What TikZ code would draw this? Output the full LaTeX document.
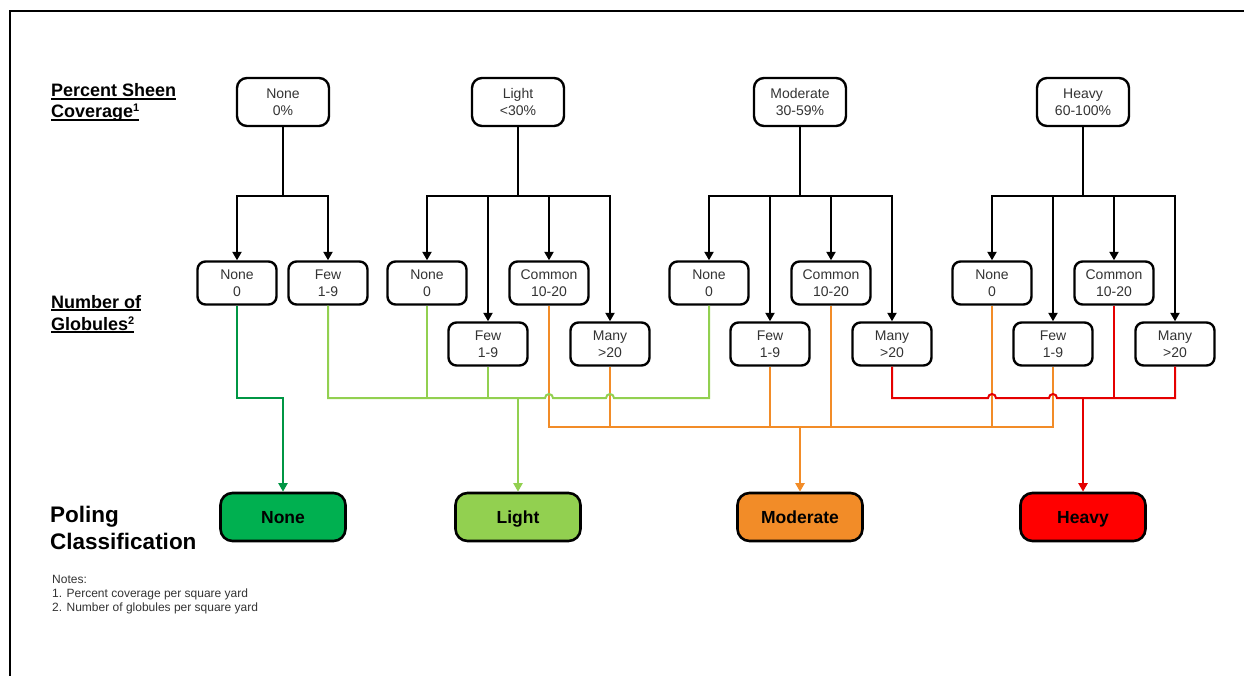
\documentclass[tikz,border=0pt]{standalone}
\usepackage{fontspec}
\setmainfont{Liberation Sans}
\usepackage{tikz}
\usetikzlibrary{arrows.meta}
\usetikzlibrary{calc}
\usetikzlibrary{positioning}

\definecolor{NoneGreen}{HTML}{00B050}
\definecolor{LightGreen}{HTML}{92D050}
\definecolor{ModOrange}{HTML}{F28C28}
\definecolor{HeavyRed}{HTML}{FF0000}

\newcommand{\undl}[1]{\setbox0\hbox{#1}\rlap{\rule[-2.6pt]{\wd0}{1.5pt}}\box0}

\begin{document}
\begin{tikzpicture}[x=1pt,y=-1pt,
	sheen/.style={draw,line width=2.4pt,rounded corners=10pt,minimum width=92pt,minimum height=48pt,
		align=center,inner sep=0pt,font=\fontsize{14}{17}\selectfont,text=black!80},
	glob/.style={sheen,minimum width=79pt,minimum height=43pt,rounded corners=8pt},
	poling/.style={draw,line width=2.6pt,rounded corners=12pt,minimum width=125pt,minimum height=48pt,
		inner sep=0pt,text height=13pt,text depth=0pt,font=\fontsize{17.5}{20}\selectfont\bfseries},
	tree/.style={line width=2.4pt},
	wire/.style={line width=2pt},
	tip/.style={-{Triangle[width=9pt,length=8.5pt]}},
	sidelbl/.style={anchor=base west,inner sep=0pt,font=\fontsize{18}{21}\selectfont\bfseries},
	note/.style={anchor=base west,inner sep=0pt,font=\fontsize{12}{14}\selectfont,text=black!80},
	]
	\useasboundingbox (0,0) rectangle (1244,676);
	\draw[line width=2.5pt] (10,676) -- (10,11) -- (1244,11);

	% left hand labels
	\node[sidelbl] (lbl-sheen) at (51,97) {\undl{Percent Sheen}};
	\node[sidelbl] (lbl-cover) at (51,118) {\undl{Coverage{\fontsize{11}{11}\selectfont\raisebox{6pt}{1}}}};
	\node[sidelbl] (lbl-number) at (51,308) {\undl{Number of}};
	\node[sidelbl] (lbl-glob) at (51,330) {\undl{Globules{\fontsize{11}{11}\selectfont\raisebox{6pt}{2}}}};
	\node[sidelbl,font=\fontsize{22.5}{25}\selectfont\bfseries] (lbl-poling) at (50,522) {Poling};
	\node[sidelbl,font=\fontsize{22.5}{25}\selectfont\bfseries] (lbl-class) at (50,549) {Classification};

	\node[note] (note-head) at (52,583) {Notes:};
	\node[note] (note-one) at (52,597) {1. Percent coverage per square yard};
	\node[note] (note-two) at (52,611) {2. Number of globules per square yard};

	% sheen coverage
	\node[sheen] (sheen-none) at (283,102) {None\\0\%};
	\node[sheen] (sheen-light) at (518,102) {Light\\<30\%};
	\node[sheen] (sheen-mod) at (800,102) {Moderate\\30-59\%};
	\node[sheen] (sheen-heavy) at (1083,102) {Heavy\\60-100\%};

	% globules
	\node[glob] (none-none) at (237,283) {None\\0};
	\node[glob] (none-few) at (328,283) {Few\\1-9};
	\coordinate (none-split) at (283,196);
	\draw[tree] (sheen-none.south) -- (none-split);
	\draw[tree,tip] (none-split) -| (none-none.north);
	\draw[tree,tip] (none-split) -| (none-few.north);

	\foreach \g/\c in {light/518,mod/800,heavy/1083}{
		\node[glob] (\g-none) at (\c-91,283) {None\\0};
		\node[glob] (\g-few) at (\c-30,344) {Few\\1-9};
		\node[glob] (\g-common) at (\c+31,283) {Common\\10-20};
		\node[glob] (\g-many) at (\c+92,344) {Many\\>20};
		\coordinate (\g-split) at (\c,196);
		\draw[tree] (sheen-\g.south) -- (\g-split);
		\foreach \k in {none,few,common,many}
			\draw[tree,tip] (\g-split) -| (\g-\k.north);
	}

	% poling classification
	\node[poling,fill=NoneGreen] (pol-none) at (283,517) {None};
	\node[poling,fill=LightGreen] (pol-light) at (518,517) {Light};
	\node[poling,fill=ModOrange] (pol-mod) at (800,517) {Moderate};
	\node[poling,fill=HeavyRed] (pol-heavy) at (1083,517) {Heavy};

	\draw[wire,draw=NoneGreen!85!black,tip] (none-none.south) -- ++(0,92) -| (pol-none.north);

	\coordinate (mod-bus) at (800,427);
	\draw[wire,draw=ModOrange] (light-common.south) |- (mod-bus) -| (heavy-few.south);
	\foreach \n in {light-many,mod-few,mod-common,heavy-none}
		\draw[wire,draw=ModOrange] (\n.south) -- (\n.south |- mod-bus);
	\draw[wire,draw=ModOrange,tip] (mod-bus) -- (pol-mod.north);

	\coordinate (light-bus) at (518,398);
	\draw[wire,draw=LightGreen] (none-few.south) |- ($(light-common.south |- light-bus)+(-4,0)$)
		arc[start angle=180,end angle=360,radius=4] -- ($(light-many.south |- light-bus)+(-4,0)$)
		arc[start angle=180,end angle=360,radius=4] -| (mod-none.south);
	\foreach \n in {light-none,light-few}
		\draw[wire,draw=LightGreen] (\n.south) -- (\n.south |- light-bus);
	\draw[wire,draw=LightGreen,tip] (light-bus) -- (pol-light.north);

	\coordinate (heavy-bus) at (1083,398);
	\draw[wire,draw=HeavyRed!90!black] (mod-many.south) |- ($(heavy-none.south |- heavy-bus)+(-4,0)$)
		arc[start angle=180,end angle=360,radius=4] -- ($(heavy-few.south |- heavy-bus)+(-4,0)$)
		arc[start angle=180,end angle=360,radius=4] -| (heavy-many.south);
	\draw[wire,draw=HeavyRed!90!black] (heavy-common.south) -- (heavy-common.south |- heavy-bus);
	\draw[wire,draw=HeavyRed!90!black,tip] (heavy-bus) -- (pol-heavy.north);
\end{tikzpicture}
\end{document}
